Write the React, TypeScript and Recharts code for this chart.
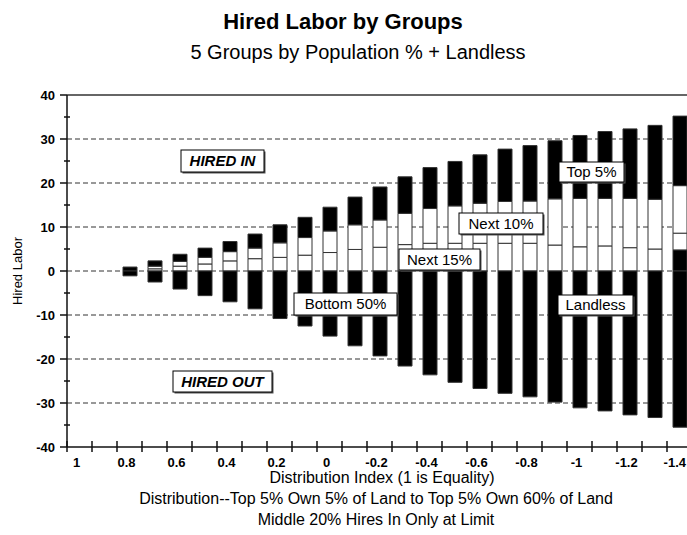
import React from 'react'
import { BarChart, Bar, XAxis, YAxis, CartesianGrid, ReferenceLine } from 'recharts'

const FONT = '"Liberation Sans", Arial, sans-serif'

// distribution index, 1 (equality) down to -1.4
const categories = [
	'1', '0.9', '0.8', '0.7', '0.6', '0.5', '0.4', '0.3', '0.2', '0.1', '0',
	'-0.1', '-0.2', '-0.3', '-0.4', '-0.5', '-0.6', '-0.7', '-0.8', '-0.9',
	'-1', '-1.1', '-1.2', '-1.3', '-1.4',
]

// hired in (positive)
const middle20 = [0, 0, 0, 0, 0, 0, 0, 0, 0, 0, 0, 0, 0, 0, 0, 0, 0, 0, 0, 0, 0, 0, 0, 0, 4.8]
const next15 = [0, 0, 0, 0.5, 1.1, 1.6, 2.3, 2.8, 3.1, 3.6, 4.2, 4.9, 5.4, 6.0, 6.3, 6.3, 6.3, 6.3, 6.3, 5.9, 5.5, 5.7, 5.3, 5.0, 3.8]
const next10 = [0, 0, 0, 0.6, 1.1, 1.5, 2.1, 2.4, 3.3, 4.0, 4.9, 5.6, 6.2, 7.1, 7.9, 8.5, 9.1, 9.5, 9.6, 10.5, 11.0, 10.8, 11.2, 11.3, 10.8]
const top5 = [0, 0, 0.9, 1.2, 1.6, 2.1, 2.3, 3.2, 4.1, 4.6, 5.4, 6.3, 7.5, 8.3, 9.3, 10.1, 11.0, 11.9, 12.6, 13.2, 14.3, 15.2, 15.8, 16.8, 15.8]

// hired out (negative): bottom 50% + landless
const hiredOut = [0, 0, -1.1, -2.5, -4.1, -5.6, -7.0, -8.6, -10.8, -12.5, -14.8, -17.0, -19.3, -21.6, -23.6, -25.3, -26.7, -27.8, -28.6, -29.8, -31.1, -31.8, -32.7, -33.3, -35.5]

const yTicks = [40, 35, 30, 25, 20, 15, 10, 5, 0, -5, -10, -15, -20, -25, -30, -35, -40]
const gridValues = [30, 20, 10, 0, -10, -20, -30]

const callouts = [
	{ text: 'HIRED IN', x: 181, y: 150, w: 83, h: 22, strong: true },
	{ text: 'HIRED OUT', x: 173, y: 371, w: 99, h: 21, strong: true },
	{ text: 'Top 5%', x: 559, y: 162, w: 65, h: 20, strong: false },
	{ text: 'Next 10%', x: 459, y: 213, w: 84, h: 21, strong: false },
	{ text: 'Next 15%', x: 399, y: 249, w: 81, h: 21, strong: false },
	{ text: 'Bottom 50%', x: 294, y: 293, w: 103, h: 22, strong: false },
	{ text: 'Landless', x: 558, y: 295, w: 75, h: 20, strong: false },
]

const XTick = (props: any) => {
	const { x, y, payload, index } = props
	const half = 12.5
	const last = index === categories.length - 1
	return (
		<g>
			<line x1={x - half} x2={x - half} y1={y - 6} y2={y + 5} stroke="#111" strokeWidth={1.5} />
			{index % 2 === 0 && (
				<text
					x={last ? 686 : x - 3}
					y={y + 20}
					textAnchor={last ? 'end' : 'middle'}
					fontSize={13}
					fontWeight="bold"
					fill="#000"
					fontFamily={FONT}
				>
					{payload.value}
				</text>
			)}
		</g>
	)
}

const YTick = (props: any) => {
	const { x, y, payload } = props
	const v = payload.value
	const major = v % 10 === 0
	return (
		<g>
			<line x1={major ? x - 7 : x - 3} x2={major ? x : x + 3} y1={y} y2={y} stroke="#111" strokeWidth={1.5} />
			{major && (
				<text x={x - 12} y={y + 5} textAnchor="end" fontSize={13} fontWeight="bold" fill="#000" fontFamily={FONT}>
					{v}
				</text>
			)}
		</g>
	)
}

export default function App() {
	const data = categories.map((c, i) => ({
		cat: c,
		middle20: middle20[i],
		next15: next15[i],
		next10: next10[i],
		top5: top5[i],
		hiredOut: hiredOut[i],
	}))

	return (
		<div
			style={{
				position: 'absolute',
				left: 0,
				top: 0,
				width: 687,
				height: 535,
				overflow: 'hidden',
				background: '#fff',
				fontFamily: FONT,
			}}
		>
			<BarChart
				width={700}
				height={535}
				data={data}
				stackOffset="sign"
				barSize={14}
				margin={{ top: 95, right: 8, bottom: 68, left: 0 }}
			>
				<CartesianGrid vertical={false} horizontalValues={gridValues} stroke="#333" strokeDasharray="5 3" />
				<XAxis
					dataKey="cat"
					height={20}
					interval={0}
					tickSize={0}
					tickMargin={0}
					tickLine={false}
					tick={<XTick />}
					axisLine={{ stroke: '#111', strokeWidth: 1.5 }}
				/>
				<YAxis
					width={67}
					type="number"
					domain={[-40, 40]}
					ticks={yTicks}
					interval={0}
					allowDataOverflow
					tickSize={0}
					tickMargin={0}
					tickLine={false}
					tick={<YTick />}
					axisLine={{ stroke: '#111', strokeWidth: 1.5 }}
				/>
				<ReferenceLine y={40} stroke="#333" strokeWidth={1.5} />
				<Bar dataKey="middle20" stackId="a" fill="#000" stroke="#333" isAnimationActive={false} />
				<Bar dataKey="next15" stackId="a" fill="#fff" stroke="#333" isAnimationActive={false} />
				<Bar dataKey="next10" stackId="a" fill="#fff" stroke="#333" isAnimationActive={false} />
				<Bar dataKey="top5" stackId="a" fill="#000" stroke="#333" isAnimationActive={false} />
				<Bar dataKey="hiredOut" stackId="a" fill="#000" stroke="#333" isAnimationActive={false} />
			</BarChart>

			<svg
				width={687}
				height={535}
				style={{ position: 'absolute', left: 0, top: 0, pointerEvents: 'none' }}
				fontFamily={FONT}
			>
				<text x={343} y={29} textAnchor="middle" fontSize={22} fontWeight="bold" fill="#000">
					Hired Labor by Groups
				</text>
				<text x={358} y={59} textAnchor="middle" fontSize={20} fill="#000">
					5 Groups by Population % + Landless
				</text>
				<text
					x={0}
					y={0}
					transform="translate(22, 271) rotate(-90)"
					textAnchor="middle"
					fontSize={13}
					fill="#000"
				>
					Hired Labor
				</text>
				<text x={382} y={483} textAnchor="middle" fontSize={16} fill="#000">
					Distribution Index (1 is Equality)
				</text>
				<text x={376} y={504} textAnchor="middle" fontSize={16} fill="#000">
					Distribution--Top 5% Own 5% of Land to Top 5% Own 60% of Land
				</text>
				<text x={376} y={525} textAnchor="middle" fontSize={16} fill="#000">
					Middle 20% Hires In Only at Limit
				</text>
				{callouts.map((c) => (
					<g key={c.text}>
						<rect x={c.x + 1.5} y={c.y + 1.5} width={c.w} height={c.h} fill="#555" />
						<rect x={c.x} y={c.y} width={c.w} height={c.h} fill="#fff" stroke="#000" strokeWidth={1} />
						<text
							x={c.x + c.w / 2}
							y={c.y + c.h / 2 + 5}
							textAnchor="middle"
							fontSize={15}
							fontWeight={c.strong ? 'bold' : 'normal'}
							fontStyle={c.strong ? 'italic' : 'normal'}
							fill="#000"
						>
							{c.text}
						</text>
					</g>
				))}
			</svg>
		</div>
	)
}
